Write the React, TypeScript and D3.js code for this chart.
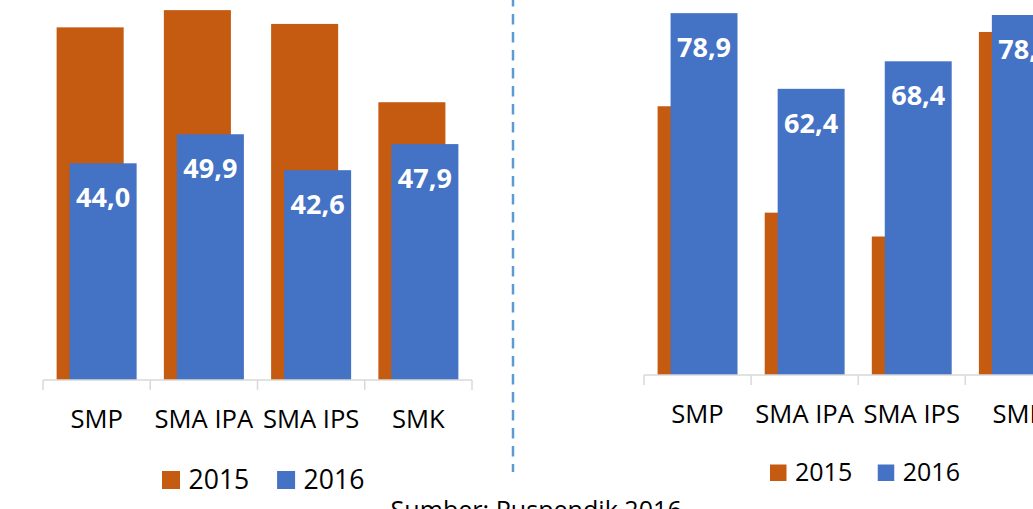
import React from "react";
import * as d3 from "d3";

const categories = ["SMP", "SMA IPA", "SMA IPS", "SMK"];
const seriesNames = ["2015", "2016"];
const left2015 = [71.6, 75.1, 72.3, 56.4];
const left2016 = [44.0, 49.9, 42.6, 47.9];
const right2015 = [58.6, 35.4, 30.2, 74.8];
const right2016 = [78.9, 62.4, 68.4, 78.5];
const sourceText = "Sumber: Puspendik 2016";

const ORANGE = "#C55A11";
const BLUE = "#4472C4";
const FONT = "'Open Sans', sans-serif";
const fmt = (v: number) => d3.format(".1f")(v).replace(".", ",");

type PanelProps = {
  x0: number;
  x1: number;
  baseY: number;
  pxPerUnit: number;
  a: number[];
  b: number[];
  legendX: number;
  legendY: number;
  legendSize: number;
  legendFont: number;
};

function Panel({ x0, x1, baseY, pxPerUnit, a, b, legendX, legendY, legendSize, legendFont }: PanelProps) {
  const x = d3.scaleBand<string>().domain(categories).range([x0, x1]).paddingInner(0).paddingOuter(0);
  const y = d3.scaleLinear().domain([0, 80]).range([baseY, baseY - 80 * pxPerUnit]);
  const bw = x.bandwidth();
  const barW = bw * 0.625;
  const shift = bw * 0.121;
  const groupW = barW + shift;
  const ticks = [...categories.map((c) => x(c)!), x1];
  return (
    <g>
      {categories.map((c, i) => {
        const cx = x(c)! + bw / 2;
        const ax = cx - groupW / 2;
        const bx = ax + shift;
        return (
          <g key={c}>
            <rect x={ax} y={y(a[i])} width={barW} height={baseY - y(a[i])} fill={ORANGE} />
            <rect x={bx} y={y(b[i])} width={barW} height={baseY - y(b[i])} fill={BLUE} />
            <text
              x={bx + barW / 2}
              y={y(b[i]) + 44}
              textAnchor="middle"
              fontFamily={FONT}
              fontWeight={700}
              fontSize={27}
              fill="#fff"
            >
              {fmt(b[i])}
            </text>
            <text x={cx} y={baseY + 48} textAnchor="middle" fontFamily={FONT} fontSize={25.6} fill="#000">
              {c}
            </text>
          </g>
        );
      })}
      <line x1={x0} x2={x1} y1={baseY} y2={baseY} stroke="#D9D9D9" strokeWidth={1.5} />
      {ticks.map((t, i) => (
        <line key={i} x1={t} x2={t} y1={baseY} y2={baseY + 10} stroke="#D9D9D9" strokeWidth={1.5} />
      ))}
      {seriesNames.map((s, i) => {
        const lx = legendX + i * (legendSize + legendFont * 3.65 + 0);
        return (
          <g key={s}>
            <rect x={lx} y={legendY - legendSize} width={legendSize} height={legendSize} fill={i === 0 ? ORANGE : BLUE} />
            <text x={lx + legendSize + 8.5} y={legendY} fontFamily={FONT} fontSize={legendFont} fill="#000">
              {s}
            </text>
          </g>
        );
      })}
    </g>
  );
}

export default function App() {
  return (
    <div style={{ position: "absolute", left: 0, top: 0, width: 1033, height: 509, overflow: "hidden" }}>
      <svg width={1033} height={509} style={{ display: "block", background: "#fff" }}>
        <Panel
          x0={43}
          x1={472}
          baseY={380}
          pxPerUnit={4.925}
          a={left2015}
          b={left2016}
          legendX={162}
          legendY={489}
          legendSize={18}
          legendFont={26.6}
        />
        <Panel
          x0={644}
          x1={1072.4}
          baseY={375}
          pxPerUnit={4.586}
          a={right2015}
          b={right2016}
          legendX={770}
          legendY={481}
          legendSize={16.5}
          legendFont={25}
        />
        <line x1={513} x2={513} y1={-4} y2={472} stroke="#5B9BD5" strokeWidth={2.5} strokeDasharray="10.5 7.5" />
        <text x={390.5} y={518.6} fontFamily={FONT} fontSize={25.1} fill="#000">
          {sourceText}
        </text>
      </svg>
    </div>
  );
}
